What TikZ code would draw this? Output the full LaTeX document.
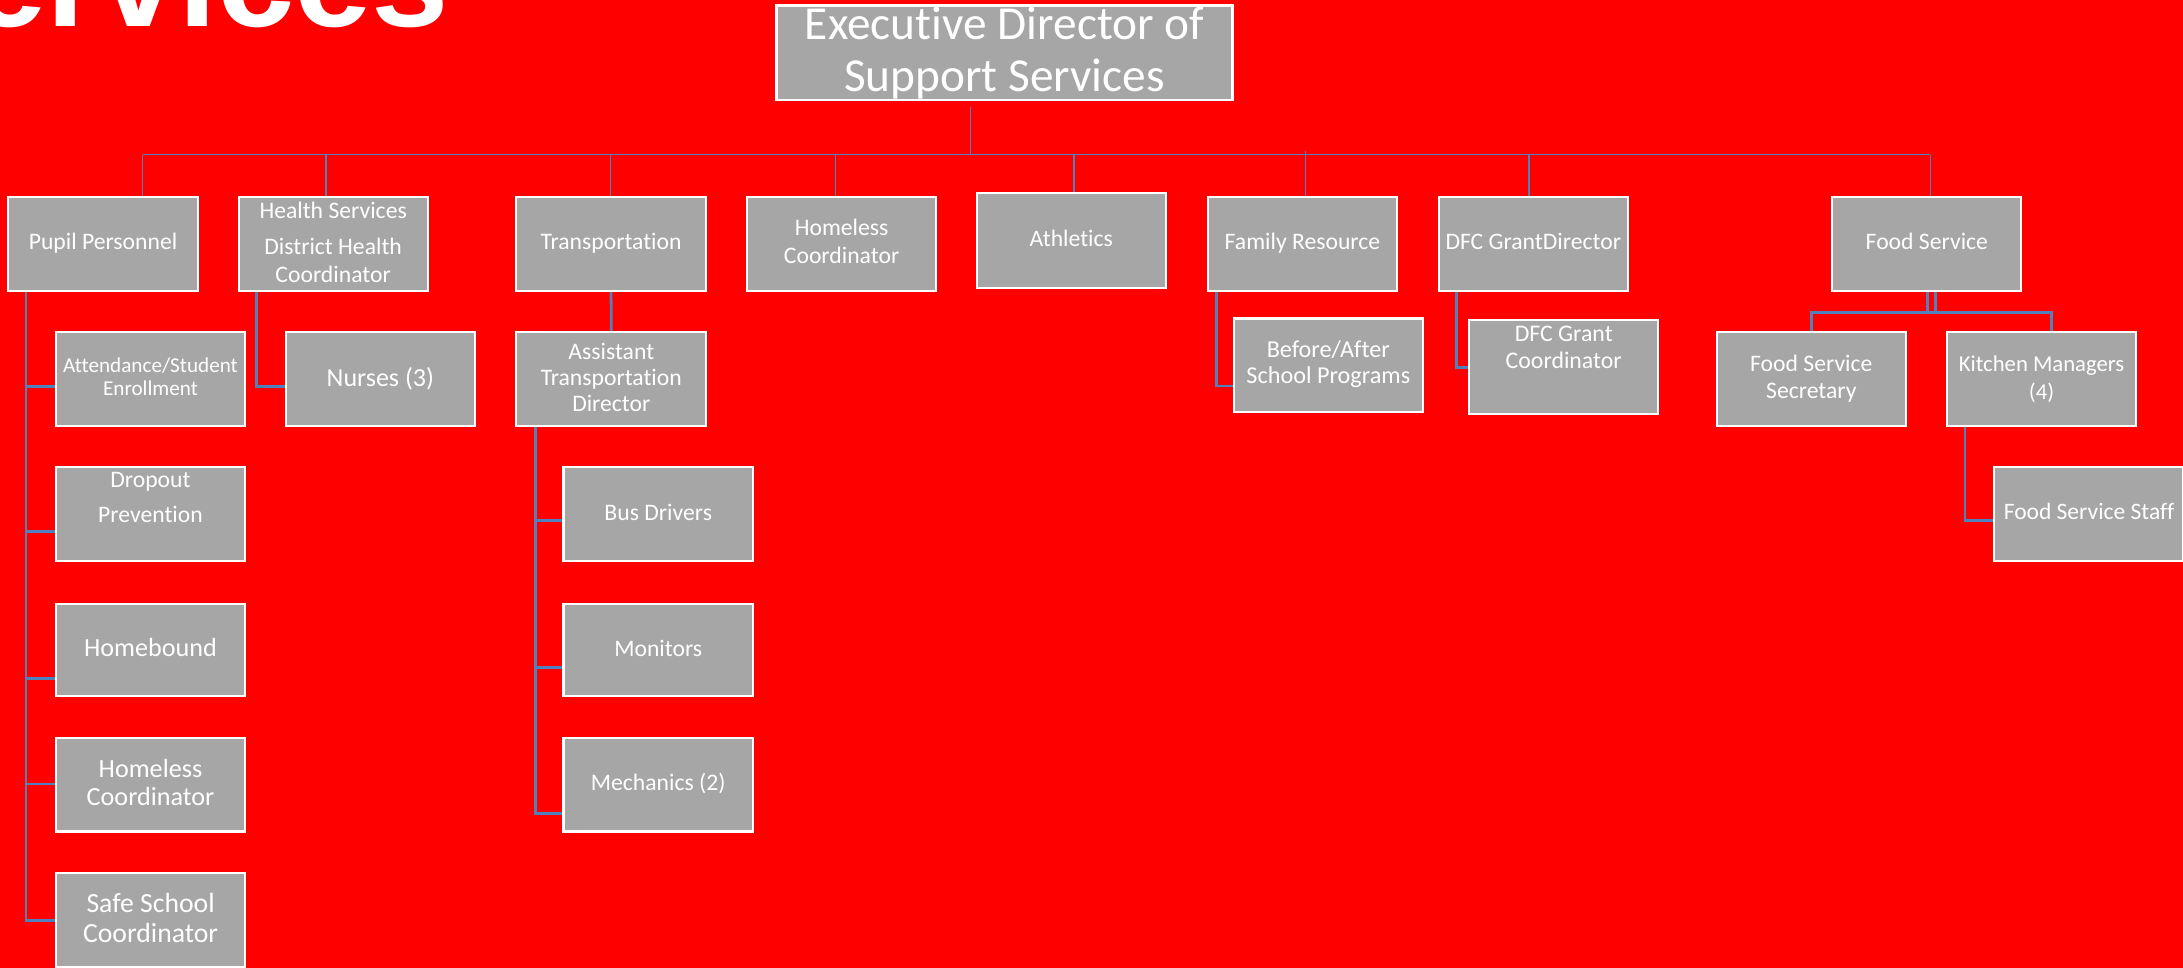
\documentclass[tikz,border=0pt]{standalone}
\usepackage{fontspec}
\setmainfont{Carlito}[Ligatures=NoCommon]
\newfontfamily\ttlfont{Liberation Sans}
\usetikzlibrary{calc}
\definecolor{bgred}{RGB}{255,0,0}
\definecolor{boxgray}{RGB}{166,166,166}
\definecolor{lnblue}{RGB}{79,129,189}
\newcommand\fsz[2]{\fontsize{#1}{#2}\selectfont}
\newcommand\stt{\rule[-0.25em]{0pt}{1em}}
\newcommand\bx[6][]{\pgfmathsetmacro\mybw{#5-1.5}\pgfmathsetmacro\mybh{#6-1.5}%
  \node[box,minimum width=\mybw pt,minimum height=\mybh pt,#1] (#2) at ({#3+0.75},{#4+0.75}) {};}
\pgfdeclarelayer{back}
\pgfdeclarelayer{lines}
\pgfsetlayers{back,lines,main}
\begin{document}
\begin{tikzpicture}[x=1pt,y=-1pt,
  box/.style={draw=white,line width=1.5pt,fill=boxgray,anchor=north west,inner sep=0pt,outer sep=0pt},
  txt/.style={text=white,align=center,inner sep=0pt},
  l1/.style={draw=lnblue,line width=1.1pt},
  l2/.style={draw=lnblue,line width=2pt}]
\useasboundingbox (0,0) rectangle (1568,695);
\begin{pgfonlayer}{back}
  \fill[bgred] (0,0) rectangle (1568,695);
\end{pgfonlayer}
\clip (0,0) rectangle (1568,695);

% title (cut off at the top left)
\node[anchor=base east,inner sep=0pt,text=white,font=\ttlfont\bfseries\fsz{100}{100}] (title) at (323,19.2) {Services};

% boxes
\bx[line width=2pt]{exec}{557}{3}{329}{69.6}
\bx{pp}{5}{141}{138}{69}
\bx{health}{170.6}{141}{137.4}{69}
\bx{trans}{370.2}{141}{137.4}{69}
\bx{homlA}{536}{141}{137}{69}
\bx{ath}{701}{138.2}{137}{69.2}
\bx{fam}{867}{141}{137}{69}
\bx{dfc}{1032.7}{141}{137.2}{69}
\bx{food}{1315.4}{141}{137.2}{69}
\bx{att}{39.2}{238}{137.8}{68.7}
\bx{drop}{39.2}{335}{137.8}{68.8}
\bx{homb}{39.2}{432.8}{137.8}{68}
\bx{homlB}{39.2}{529.2}{137.8}{68.8}
\bx{safe}{39.5}{626.5}{137.5}{69}
\bx{nurs}{204.5}{238}{137.5}{68.7}
\bx{asst}{370.2}{238}{137.8}{68.7}
\bx{busd}{404}{335}{137.7}{68.7}
\bx{mon}{404}{432.8}{137.7}{68}
\bx{mech}{404}{529.2}{137.7}{68.8}
\bx{ba}{885.3}{228}{137.7}{68.6}
\bx{dfcc}{1054.5}{229.4}{137.4}{68.7}
\bx{sec}{1232.4}{237.8}{137.2}{68.7}
\bx{kit}{1397.6}{237.8}{137.6}{68.7}
\bx{staff}{1431.5}{335}{137}{68.7}

% texts
\node[txt,font=\fsz{34}{37.7}] (exec-t) at (721.5,38.7) {\stt Executive Director of\\\stt Support Services};
\node[txt,font=\fsz{17}{19.5}] (pp-t) at (74,175) {\stt Pupil Personnel};
\node[txt,font=\fsz{17}{20}] (health-t) at (239.3,175.5) {\stt Health Services\\[6pt]\stt District Health\\\stt Coordinator};
\node[txt,font=\fsz{17}{19.5}] (trans-t) at (438.9,175) {\stt Transportation};
\node[txt,font=\fsz{17}{19.5}] (homlA-t) at (604.5,175) {\stt Homeless\\\stt Coordinator};
\node[txt,font=\fsz{17}{19.5}] (ath-t) at (769.5,172.5) {\stt Athletics};
\node[txt,font=\fsz{17}{19.5}] (fam-t) at (935.5,175) {\stt Family Resource};
\node[txt,font=\fsz{17}{19.5}] (dfc-t) at (1101.3,175) {\stt DFC GrantDirector};
\node[txt,font=\fsz{17}{19.5}] (food-t) at (1384,175) {\stt Food Service};
\node[txt,font=\fsz{15.2}{16.5}] (att-t) at (108.1,272.2) {\stt Attendance/Student\\\stt Enrollment};
\node[txt,font=\fsz{17}{25.5}] (drop-t) at (108.1,358.3) {\stt Dropout\\\stt Prevention};
\node[txt,font=\fsz{18.8}{20}] (homb-t) at (108.1,466.8) {\stt Homebound};
\node[txt,font=\fsz{18.8}{19.6}] (homlB-t) at (108.1,563.8) {\stt Homeless\\\stt Coordinator};
\node[txt,font=\fsz{19.9}{21.7}] (safe-t) at (108.2,661) {\stt Safe School\\\stt Coordinator};
\node[txt,font=\fsz{18.7}{20}] (nurs-t) at (273.2,272.8) {\stt Nurses (3)};
\node[txt,font=\fsz{17}{18.7}] (asst-t) at (439.1,272.8) {\stt Assistant\\\stt Transportation\\\stt Director};
\node[txt,font=\fsz{17}{19.5}] (busd-t) at (472.8,369.3) {\stt Bus Drivers};
\node[txt,font=\fsz{17}{19.5}] (mon-t) at (472.8,467) {\stt Monitors};
\node[txt,font=\fsz{17}{19.5}] (mech-t) at (472.8,563.8) {\stt Mechanics (2)};
\node[txt,font=\fsz{17.4}{19}] (ba-t) at (954.1,261.8) {\stt Before/After\\\stt School Programs};
\node[txt,font=\fsz{17.1}{19}] (dfcc-t) at (1123.2,250.8) {\stt DFC Grant\\\stt Coordinator};
\node[txt,font=\fsz{17}{19.5}] (sec-t) at (1301,272.4) {\stt Food Service\\\stt Secretary};
\node[txt,font=\fsz{16.3}{20}] (kit-t) at (1466.4,272.6) {\stt Kitchen Managers\\\stt (4)};
\node[txt,font=\fsz{16.9}{19.5}] (staff-t) at (1500.5,368.6) {\stt Food Service Staff};

% connectors
\begin{pgfonlayer}{lines}
  \coordinate (de) at (697,77);
  \coordinate (d1) at (102.5,111);
  \coordinate (d2) at (234,111);
  \coordinate (d3) at (438.5,111);
  \coordinate (d4) at (600,111);
  \coordinate (d5) at (771.5,111);
  \coordinate (d6) at (937.6,108.5);
  \coordinate (d7) at (1098.4,111);
  \coordinate (d8) at (1386.5,111);
  \draw[l1] (d1) -- (d8);
  \draw[l1] (de) -- (de |- d1);
  \draw[l1] (d1) -- (d1 |- pp.north);
  \draw[l1] (d2) -- (d2 |- health.north);
  \draw[l1] (d3) -- (d3 |- trans.north);
  \draw[l1] (d4) -- (d4 |- homlA.north);
  \draw[l1] (d5) -- (d5 |- ath.north);
  \draw[l1] (d6) -- (d6 |- fam.north);
  \draw[l1] (d7) -- (d7 |- dfc.north);
  \draw[l1] (d8) -- (d8 |- food.north);
  % pupil personnel
  \coordinate (ppv) at (18.7,210);
  \draw[l2] (ppv) |- ($(att.west)+(0,5.5)$);
  \draw[l2] (ppv) |- ($(drop.west)+(0,12.5)$);
  \draw[l2] (ppv) |- ($(homb.west)+(0,20.5)$);
  \draw[l2] (ppv) |- ($(homlB.west)+(0,-0.5)$);
  \draw[l2] (ppv) |- (safe.west);
  % health
  \coordinate (hv) at (184.4,210);
  \draw[l2] (hv) |- ($(nurs.west)+(0,5.5)$);
  % transportation
  \draw[l2] (trans.south) -- (asst.north);
  \coordinate (av) at (384.5,307);
  \draw[l2] (av) |- ($(busd.west)+(0,4.5)$);
  \draw[l2] (av) |- ($(mon.west)+(0,12.5)$);
  \draw[l2] (av) |- ($(mech.west)+(0,20.5)$);
  % family resource
  \coordinate (fv) at (873.8,210);
  \draw[l2] (fv) |- ($(ba.west)+(0,15)$);
  % DFC
  \coordinate (dv) at (1046.2,210);
  \draw[l2] (dv) |- (dfcc.west);
  % food service
  \coordinate (fa) at (1384.7,210);
  \coordinate (fb) at (1390,210);
  \coordinate (fh) at (1387,224.6);
  \draw[l2] (fa) -- (fa |- fh);
  \draw[l2] (fb) -- (fb |- fh);
  \draw[l2] (sec.north) |- (fh) -| ($(kit.north)+(7,0)$);
  \coordinate (kv) at (1411.4,307);
  \draw[l2] (kv) |- ($(staff.west)+(0,4.6)$);
\end{pgfonlayer}
\end{tikzpicture}
\end{document}
